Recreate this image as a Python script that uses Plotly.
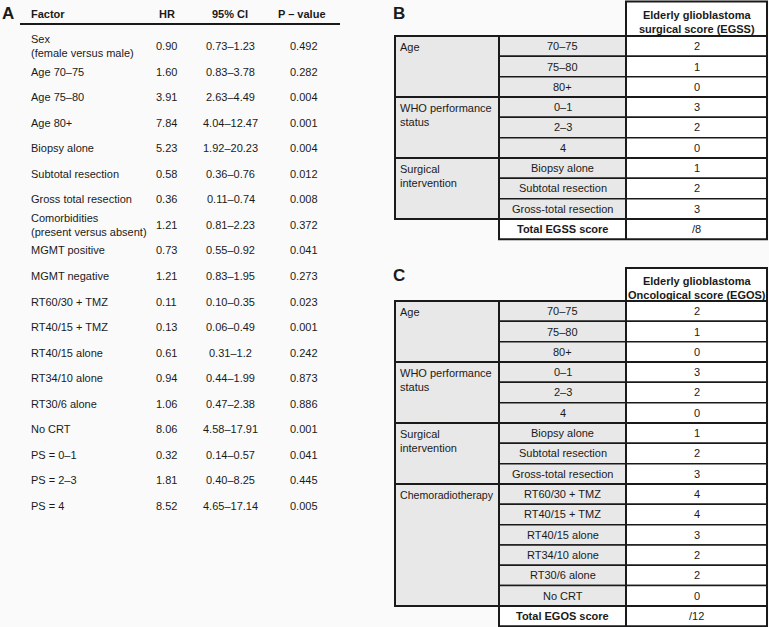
import plotly.graph_objects as go

# ---------------- Panel A data ----------------
factors = ["Sex<br>(female versus male)", "Age 70–75", "Age 75–80", "Age 80+",
           "Biopsy alone", "Subtotal resection", "Gross total resection",
           "Comorbidities<br>(present versus absent)", "MGMT positive", "MGMT negative",
           "RT60/30 + TMZ", "RT40/15 + TMZ", "RT40/15 alone", "RT34/10 alone",
           "RT30/6 alone", "No CRT", "PS = 0–1", "PS = 2–3", "PS = 4"]
hr = ["0.90", "1.60", "3.91", "7.84", "5.23", "0.58", "0.36", "1.21", "0.73", "1.21",
      "0.11", "0.13", "0.61", "0.94", "1.06", "8.06", "0.32", "1.81", "8.52"]
ci = ["0.73–1.23", "0.83–3.78", "2.63–4.49", "4.04–12.47", "1.92–20.23", "0.36–0.76",
      "0.11–0.74", "0.81–2.23", "0.55–0.92", "0.83–1.95", "0.10–0.35", "0.06–0.49",
      "0.31–1.2", "0.44–1.99", "0.47–2.38", "4.58–17.91", "0.14–0.57", "0.40–8.25",
      "4.65–17.14"]
pval = ["0.492", "0.282", "0.004", "0.001", "0.004", "0.012", "0.008", "0.372", "0.041",
        "0.273", "0.023", "0.001", "0.242", "0.873", "0.886", "0.001", "0.041", "0.445",
        "0.005"]
headers_a = ["Factor", "HR", "95% CI", "P – value"]

# ---------------- Panel B data ----------------
groups_b = ["Age", "WHO performance<br>status", "Surgical<br>intervention"]
group_sizes_b = [3, 3, 3]
items_b = ["70–75", "75–80", "80+", "0–1", "2–3", "4",
           "Biopsy alone", "Subtotal resection", "Gross-total resection"]
scores_b = ["2", "1", "0", "3", "2", "0", "1", "2", "3"]
header_b = "Elderly glioblastoma<br>surgical score (EGSS)"
total_label_b, total_b = "Total EGSS score", "/8"

# ---------------- Panel C data ----------------
groups_c = ["Age", "WHO performance<br>status", "Surgical<br>intervention", "Chemoradiotherapy"]
group_sizes_c = [3, 3, 3, 6]
items_c = ["70–75", "75–80", "80+", "0–1", "2–3", "4",
           "Biopsy alone", "Subtotal resection", "Gross-total resection",
           "RT60/30 + TMZ", "RT40/15 + TMZ", "RT40/15 alone", "RT34/10 alone",
           "RT30/6 alone", "No CRT"]
scores_c = ["2", "1", "0", "3", "2", "0", "1", "2", "3", "4", "4", "3", "2", "2", "0"]
header_c = "Elderly glioblastoma<br>Oncological score (EGOS)"
total_label_c, total_c = "Total EGOS score", "/12"

FONT = "Liberation Sans, Arial, Helvetica, sans-serif"
INK = "#1a1a1a"
GRAY = "#e8e8e8"
BG = "#fafafa"

shapes = []
annos = []


def text(x, y, s, bold=False, size=11, xanchor="center", yanchor="middle", align="center"):
    annos.append(dict(x=x, y=y, xref="x", yref="y", text=f"<b>{s}</b>" if bold else s,
                      showarrow=False, xanchor=xanchor, yanchor=yanchor, align=align,
                      font=dict(family=FONT, size=size, color=INK)))


def rect(x0, y0, x1, y1, fill, lw=1.5):
    shapes.append(dict(type="rect", xref="x", yref="y", x0=x0, y0=y0, x1=x1, y1=y1,
                       fillcolor=fill, line=dict(color=INK, width=lw), layer="above"))


# ---------------- Panel A ----------------
text(8, 13, "A", bold=True, size=17)
col_x = [29, 166.5, 230.5, 304]
head_x = [29, 166.5, 230, 302]
for i, h in enumerate(headers_a):
    text(head_x[i], 14, h, bold=True, xanchor="left" if i == 0 else "center")
shapes.append(dict(type="line", xref="x", yref="y", x0=20, x1=340, y0=24, y1=24,
                   line=dict(color=INK, width=2)))
row0, step = 46, 25.55
for i in range(len(factors)):
    y = row0 + step * i
    text(col_x[0], y, factors[i], xanchor="left", align="left")
    text(col_x[1], y, hr[i])
    text(col_x[2], y, ci[i])
    text(col_x[3], y, pval[i])

# ---------------- Panels B and C ----------------
X0, X1, X2, X3 = 395, 499, 626, 767
RH = 20.33


def score_table(label, label_y, head_top, head_bot, header, groups, sizes, items, scores,
                total_label, total):
    text(X0 + 4, label_y, label, bold=True, size=17, xanchor="center")
    rect(X2, head_top, X3, head_bot, "white", lw=2)
    text((X2 + X3) / 2, (head_top + head_bot) / 2 + 3, header, bold=True)
    top = head_bot
    n = len(items)
    for i in range(n):
        y0 = top + i * RH
        rect(X1, y0, X2, y0 + RH, GRAY)
        rect(X2, y0, X3, y0 + RH, "white")
        text((X1 + X2) / 2, y0 + RH / 2, items[i])
        text((X2 + X3) / 2, y0 + RH / 2, scores[i])
    k = 0
    for g, sz in zip(groups, sizes):
        y0 = top + k * RH
        rect(X0, y0, X1, y0 + sz * RH, GRAY, lw=2)
        text(X0 + 3, y0 + 3, g, xanchor="left", yanchor="top", align="left",
             size=10.6 if len(g) > 16 and "<br>" not in g else 11)
        k += sz
    k = 0
    for sz in sizes:
        shapes.append(dict(type="rect", xref="x", yref="y", x0=X1, x1=X3, y0=top + k * RH,
                           y1=top + (k + sz) * RH, line=dict(color=INK, width=2),
                           fillcolor="rgba(0,0,0,0)", layer="above"))
        k += sz
    shapes.append(dict(type="line", xref="x", yref="y", x0=X2, x1=X2, y0=head_top,
                       y1=top + (n + 1) * RH, line=dict(color=INK, width=2), layer="above"))
    yt = top + n * RH
    rect(X1, yt, X3, yt + RH, "white", lw=2)
    shapes.append(dict(type="line", xref="x", yref="y", x0=X2, x1=X2, y0=yt, y1=yt + RH,
                       line=dict(color=INK, width=2), layer="above"))
    text((X1 + X2) / 2, yt + RH / 2, total_label, bold=True)
    text((X2 + X3) / 2, yt + RH / 2, total)


score_table("B", 13, 1.5, 36, header_b, groups_b, group_sizes_b, items_b, scores_b,
            total_label_b, total_b)
score_table("C", 275, 268, 301, header_c, groups_c, group_sizes_c, items_c, scores_c,
            total_label_c, total_c)

fig = go.Figure()
fig.update_layout(
    width=769, height=627, margin=dict(l=0, r=0, t=0, b=0),
    paper_bgcolor=BG, plot_bgcolor=BG,
    xaxis=dict(range=[0, 769], visible=False, fixedrange=True),
    yaxis=dict(range=[627, 0], visible=False, fixedrange=True),
    shapes=shapes, annotations=annos, showlegend=False,
)
fig.write_html(
    "out.html",
    config={"displayModeBar": False},
    post_script=("document.documentElement.style.margin='0';"
                 "document.body.style.margin='0';document.body.style.padding='0';"
                 "document.body.style.overflow='hidden';"
                 f"document.body.style.background='{BG}';"),
)
